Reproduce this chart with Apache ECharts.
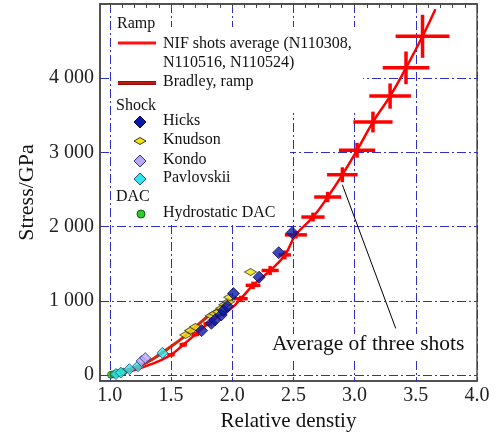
<!DOCTYPE html>
<html><head><meta charset="utf-8">
<script src="https://cdn.jsdelivr.net/npm/echarts@6/dist/echarts.min.js"></script>
<style>html,body{margin:0;padding:0;background:#fff}#c{width:504px;height:437px}</style>
</head><body><div id="c"></div>
<script>
// ---- data ----
var xTicks = [1.0, 1.5, 2.0, 2.5, 3.0, 3.5, 4.0];
var yTicks = [0, 1000, 2000, 3000, 4000];

var nifDensity   = [1.0,1.1,1.2,1.3,1.4,1.5,1.6,1.7,1.8,1.9,2.0,2.07,2.17,2.31,2.43,2.52,2.66,2.78,2.90,3.02,3.15,3.29,3.42,3.555,3.66];
var nifStress    = [0,30,70,125,190,275,410,550,690,800,910,1030,1210,1410,1620,1890,2130,2400,2700,3030,3410,3760,4140,4565,4930];
var nifDensityErr= [0,0,0,0,0,0.03,0.03,0.03,0.035,0,0,0.057,0.06,0.07,0.05,0.09,0.095,0.11,0.125,0.148,0.16,0.17,0.19,0.22,0];
var nifStressErr = [0,0,0,0,0,20,30,30,30,0,0,40,50,60,60,50,60,70,100,100,140,170,220,290,0];

var bradleyDensity = [1.0,1.1,1.2,1.3,1.4,1.5,1.6,1.7,1.8,1.9,2.0];
var bradleyStress  = [0,50,100,170,270,385,510,650,790,905,1015];

var hicksDensity = [1.75,1.83,1.86,1.91,1.93,1.96,2.01,2.22,2.38,2.49];
var hicksStress  = [600,700,745,810,870,930,1100,1320,1650,1920];

var knudsonDensity = [1.62,1.66,1.70,1.83,1.86,1.89,1.915,1.94,1.97,1.98,2.15];
var knudsonStress  = [540,600,650,800,830,855,900,950,990,1050,1390];

var kondoDensity = [1.26,1.29];
var kondoStress  = [190,230];

var pavlovskiiDensity = [1.05,1.09,1.16,1.23,1.43];
var pavlovskiiStress  = [15,35,80,120,300];

var dacDensity = [1.01,1.03,1.05,1.07,1.09,1.11];
var dacStress  = [5,12,20,28,38,45];

var annotDensity = [2.90, 3.336];
var annotStress  = [2565, 630];

function pairs(xs, ys){ return xs.map(function(x,i){ return [x, ys[i]]; }); }

var FONT = "'Liberation Serif','Times New Roman',serif";
var GRIDC = '#2f2fc4';
var minorTop = [];
for (var t = 10; t <= 40; t++) minorTop.push(t/10);

var chart = echarts.init(document.getElementById('c'), null, {renderer:'canvas'});

var errData = nifDensity.map(function(x,i){ return [x, nifStress[i], nifDensityErr[i], nifStressErr[i]]; })
  .filter(function(d){ return d[2] > 0 || d[3] > 0; });

var option = {
  animation: false,
  backgroundColor: '#fff',
  grid: {left: 100, right: 27, top: 4, bottom: 52, show: true, borderColor: '#555', borderWidth: 1.5, backgroundColor: 'transparent'},
  xAxis: [{
    type: 'value', min: 0.92, max: 4.0,
    name: 'Relative denstiy', nameLocation: 'middle', nameGap: 26,
    nameTextStyle: {fontFamily: FONT, fontSize: 21, color: '#111'},
    axisLine: {show: true, onZero: false, lineStyle: {color: '#444', width: 1.5}},
    axisTick: {show: true, inside: true, length: 4, customValues: xTicks, lineStyle: {color: GRIDC}},
    axisLabel: {customValues: xTicks, fontFamily: FONT, fontSize: 20, color: '#222', margin: 5,
      formatter: function(v){ return v.toFixed(1); }},
    splitLine: {show: true, lineStyle: {color: GRIDC, width: 1, type: [9,3,2,3]}}
  },{
    type: 'value', min: 0.92, max: 4.0, position: 'top',
    axisLine: {show: true, onZero: false, lineStyle: {color: '#444', width: 1.5}},
    axisTick: {show: true, inside: true, length: 4, customValues: minorTop, lineStyle: {color: '#444'}},
    axisLabel: {show: false}, splitLine: {show: false}
  }],
  yAxis: [{
    type: 'value', min: -80, max: 5000,
    name: 'Stress/GPa', nameLocation: 'middle', nameGap: 56,
    nameTextStyle: {fontFamily: FONT, fontSize: 22, color: '#111'},
    axisLine: {show: true, onZero: false, lineStyle: {color: '#444', width: 1.5}},
    axisTick: {show: false, customValues: yTicks},
    axisLabel: {customValues: yTicks, fontFamily: FONT, fontSize: 20, color: '#222', margin: 6,
      formatter: function(v){ return v >= 1000 ? Math.floor(v/1000) + ' ' + String(v%1000).padStart(3,'0') : String(v); }},
    splitLine: {show: true, lineStyle: {color: GRIDC, width: 1, type: [9,3,2,3]}}
  }],
  series: [
    {name: 'Bradley, ramp', type: 'line', data: pairs(bradleyDensity, bradleyStress), symbol: 'none', smooth: true,
      lineStyle: {color: '#d2280a', width: 3}, z: 3},
    {name: 'NIF shots average', type: 'line', data: pairs(nifDensity, nifStress), symbol: 'none', smooth: true,
      lineStyle: {color: '#ff0000', width: 2.5}, z: 4},
    {name: 'NIF error', type: 'custom', z: 5, data: errData,
      renderItem: function(params, api){
        var x = api.value(0), y = api.value(1), ex = api.value(2), ey = api.value(3);
        var c = api.coord([x, y]);
        var l = api.coord([x - ex, y]), r = api.coord([x + ex, y]);
        var b = api.coord([x, y - ey]), tp = api.coord([x, y + ey]);
        var st = {stroke: '#ff0000', lineWidth: 3.5};
        var ch = [];
        if (ex > 0) ch.push({type: 'line', shape: {x1: l[0], y1: c[1], x2: r[0], y2: c[1]}, style: st});
        if (ey > 0) ch.push({type: 'line', shape: {x1: c[0], y1: b[1], x2: c[0], y2: tp[1]}, style: st});
        return {type: 'group', children: ch};
      }},
    {name: 'Hydrostatic DAC', type: 'scatter', data: pairs(dacDensity, dacStress), symbol: 'circle', symbolSize: 7,
      itemStyle: {color: '#2ecc2e', borderColor: '#0b5a0b', borderWidth: 1}, z: 6},
    {name: 'Pavlovskii', type: 'scatter', data: pairs(pavlovskiiDensity, pavlovskiiStress), symbol: 'diamond', symbolSize: 11,
      itemStyle: {color: '#33e6e6', borderColor: '#2050a0', borderWidth: 1}, z: 6},
    {name: 'Kondo', type: 'scatter', data: pairs(kondoDensity, kondoStress), symbol: 'diamond', symbolSize: 11,
      itemStyle: {color: '#b9a9f2', borderColor: '#303090', borderWidth: 1}, z: 6},
    {name: 'Knudson', type: 'scatter', data: pairs(knudsonDensity, knudsonStress), symbol: 'diamond', symbolSize: [12,7],
      itemStyle: {color: '#f2e600', borderColor: '#333', borderWidth: 1}, z: 7},
    {name: 'Hicks', type: 'scatter', data: pairs(hicksDensity, hicksStress), symbol: 'diamond', symbolSize: 12,
      itemStyle: {color: '#0a1aa8', borderColor: '#0a0a50', borderWidth: 1}, z: 8},
    {name: 'annotation', type: 'line', data: pairs(annotDensity, annotStress), symbol: 'none',
      lineStyle: {color: '#000', width: 1}, z: 9}
  ],
  graphic: [
    {type: 'rect', z: 10, shape: {x: 112, y: 27, width: 178, height: 195}, style: {fill: '#fff'}},
    {type: 'rect', z: 10, shape: {x: 112, y: 27, width: 251, height: 86}, style: {fill: '#fff'}},
    {type: 'text', z: 11, left: 117, top: 16, style: {text: 'Ramp', font: '16px ' + FONT, fill: '#111'}},
    {type: 'line', z: 11, shape: {x1: 118, y1: 43, x2: 156, y2: 43}, style: {stroke: '#ff1010', lineWidth: 3}},
    {type: 'text', z: 11, left: 163, top: 34, style: {text: 'NIF shots average (N110308,\nN110516, N110524)', font: '16px ' + FONT, fill: '#111', lineHeight: 19}},
    {type: 'line', z: 11, shape: {x1: 118, y1: 83, x2: 156, y2: 83}, style: {stroke: '#8a1010', lineWidth: 4}},
    {type: 'line', z: 11, shape: {x1: 118, y1: 83, x2: 156, y2: 83}, style: {stroke: '#c01a10', lineWidth: 2}},
    {type: 'text', z: 11, left: 163, top: 74, style: {text: 'Bradley, ramp', font: '16px ' + FONT, fill: '#111'}},
    {type: 'text', z: 11, left: 116, top: 98, style: {text: 'Shock', font: '16px ' + FONT, fill: '#111'}},
    {type: 'polygon', z: 11, shape: {points: [[140,116],[146,122],[140,128],[134,122]]}, style: {fill: '#0a1aa8', stroke: '#0a0a50', lineWidth: 1}},
    {type: 'text', z: 11, left: 163, top: 113, style: {text: 'Hicks', font: '16px ' + FONT, fill: '#111'}},
    {type: 'polygon', z: 11, shape: {points: [[140,137.5],[146,141],[140,144.5],[134,141]]}, style: {fill: '#f2e600', stroke: '#333', lineWidth: 1}},
    {type: 'text', z: 11, left: 163, top: 132, style: {text: 'Knudson', font: '16px ' + FONT, fill: '#111'}},
    {type: 'polygon', z: 11, shape: {points: [[140,155],[146,161],[140,167],[134,161]]}, style: {fill: '#b9a9f2', stroke: '#303090', lineWidth: 1}},
    {type: 'text', z: 11, left: 163, top: 152, style: {text: 'Kondo', font: '16px ' + FONT, fill: '#111'}},
    {type: 'polygon', z: 11, shape: {points: [[140,173],[146,179],[140,185],[134,179]]}, style: {fill: '#33e6e6', stroke: '#2050a0', lineWidth: 1}},
    {type: 'text', z: 11, left: 163, top: 170, style: {text: 'Pavlovskii', font: '16px ' + FONT, fill: '#111'}},
    {type: 'text', z: 11, left: 116, top: 189, style: {text: 'DAC', font: '16px ' + FONT, fill: '#111'}},
    {type: 'circle', z: 11, shape: {cx: 141, cy: 214, r: 4}, style: {fill: '#2ecc2e', stroke: '#0b5a0b', lineWidth: 1}},
    {type: 'text', z: 11, left: 163, top: 205, style: {text: 'Hydrostatic DAC', font: '16px ' + FONT, fill: '#111'}},
    {type: 'rect', z: 10, shape: {x: 270, y: 334, width: 198, height: 24}, style: {fill: '#fff'}},
    {type: 'text', z: 11, left: 272, top: 333, style: {text: 'Average of three shots', font: '21.5px ' + FONT, fill: '#111'}}
  ]
};
chart.setOption(option);
</script></body></html>
